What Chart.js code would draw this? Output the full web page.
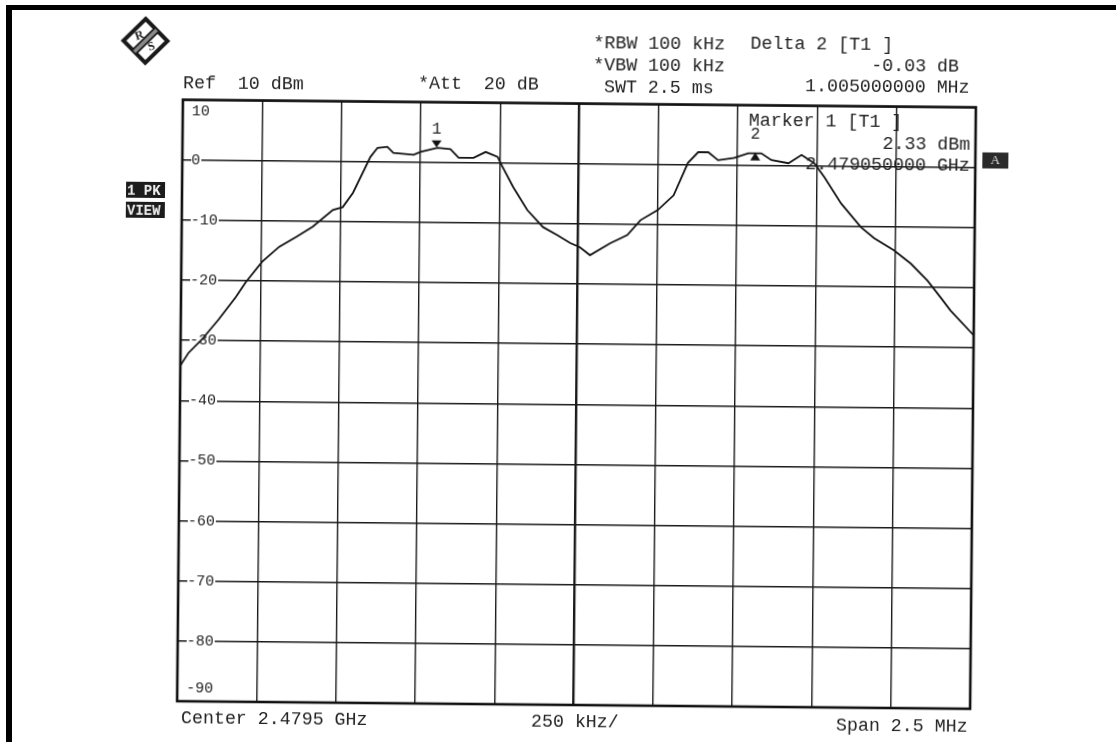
<!DOCTYPE html>
<html>
<head>
<meta charset="utf-8">
<script src="https://cdn.jsdelivr.net/npm/chart.js@4.4.1/dist/chart.umd.min.js"></script>
<style>
html, body { margin: 0; padding: 0; background: #fff; overflow: hidden; }
#wrap { position: absolute; left: 0; top: 0; width: 1116px; height: 742px;
        transform: rotate(0.55deg); transform-origin: 576px 404px; }
.bar { position: absolute; background: #000; }
</style>
</head>
<body>
<div id="wrap"><canvas id="spec"></canvas></div>
<div class="bar" style="left:6px;top:5px;width:1110px;height:5px"></div>
<div class="bar" style="left:6px;top:5px;width:6px;height:737px"></div>
<script>
// offset from centre 2.4795 GHz, in kHz (span 2.5 MHz, 250 kHz/div)
const freqKHz = [-1250, -1225, -1184, -1131, -1077, -1046, -995, -942, -888, -837,
                 -774, -743, -711, -657, -635, -604, -585, -521, -499, -446,
                 -405, -379, -332, -294, -256, -247, -206, -161, -111, -66,
                 -25, 6, 38, 101, 155, 196, 250, 300, 344, 376,
                 408, 439, 490, 534, 575, 607, 661, 702, 743, 775,
                 828, 891, 933, 996, 1050, 1103, 1145, 1176, 1250];
const levelDbm = [-34.2, -32.1, -29.9, -26.5, -22.7, -20.2, -16.8, -14.3, -12.6, -10.9,
                  -8.1, -7.6, -5.2, 0.8, 2.3, 2.5, 1.5, 1.2, 1.7, 2.4,
                  2.2, 0.8, 0.8, 1.8, 1.0, 0.0, -4.0, -7.8, -10.6, -11.9,
                  -13.2, -13.9, -15.2, -13.2, -11.8, -9.3, -7.6, -5.1, 0.3, 2.1,
                  2.1, 0.8, 1.2, 2.0, 2.0, 0.9, 0.4, 1.8, 0.4, -1.9,
                  -6.2, -10.1, -11.9, -13.9, -16.1, -18.9, -21.7, -23.8, -27.9];

// markers: 1 = reference marker, 2 = delta marker
const markerNames = ['1', '2'];
const markerFreq = [-449, 556];
const markerLevel = [2.33, 2.30];

const yTicks = [10, 0, -10, -20, -30, -40, -50, -60, -70, -80, -90];

const MONO = '"Liberation Mono", "DejaVu Sans Mono", monospace';
const INK = '#222';

function drawLogo(ctx, cx, cy, r) {
    ctx.save();
    ctx.translate(cx, cy);
    ctx.beginPath();
    ctx.moveTo(0, -r); ctx.lineTo(r, 0); ctx.lineTo(0, r); ctx.lineTo(-r, 0);
    ctx.closePath();
    ctx.lineWidth = 4; ctx.strokeStyle = '#1a1a1a'; ctx.stroke();
    ctx.beginPath();
    ctx.moveTo(r / 2, -r / 2); ctx.lineTo(-r / 2, r / 2);
    ctx.lineWidth = 7; ctx.strokeStyle = '#1a1a1a'; ctx.stroke();
    ctx.lineWidth = 3.5; ctx.strokeStyle = '#8a8a8a'; ctx.stroke();
    ctx.fillStyle = '#1a1a1a';
    ctx.font = 'bold 12px "Liberation Serif"';
    ctx.textAlign = 'center'; ctx.textBaseline = 'middle';
    ctx.save(); ctx.translate(-6, -5); ctx.rotate(-0.35); ctx.fillText('R', 0, 0); ctx.restore();
    ctx.save(); ctx.translate(6, 6); ctx.rotate(-0.35); ctx.fillText('S', 0, 0); ctx.restore();
    ctx.restore();
}

function tag(ctx, text, x, y, w, h, bg, fg) {
    ctx.fillStyle = bg;
    ctx.fillRect(x, y, w, h);
    ctx.fillStyle = fg;
    ctx.font = 'bold 14px ' + MONO;
    ctx.textAlign = 'left'; ctx.textBaseline = 'middle';
    ctx.fillText(text, x + 1, y + h / 2 + 1);
}

const analyzerText = {
    id: 'analyzerText',
    afterDraw(chart) {
        const { ctx, chartArea: a, scales: { x, y } } = chart;
        ctx.save();

        // screen frame
        ctx.strokeStyle = '#111';
        ctx.lineWidth = 2.6;
        ctx.strokeRect(a.left, a.top, a.right - a.left, a.bottom - a.top);

        // edge labels sit inside the frame
        ctx.font = '15px ' + MONO;
        ctx.fillStyle = INK;
        ctx.textAlign = 'left'; ctx.textBaseline = 'middle';
        ctx.fillText(String(yTicks[0]), a.left + 9, y.getPixelForValue(yTicks[0]) + 12);
        ctx.fillText(String(yTicks[yTicks.length - 1]), a.left + 9, y.getPixelForValue(yTicks[yTicks.length - 1]) - 13);

        // markers
        markerFreq.forEach((f, i) => {
            const px = x.getPixelForValue(f);
            const py = y.getPixelForValue(markerLevel[i]);
            ctx.fillStyle = '#111';
            ctx.beginPath();
            if (i === 0) {
                ctx.moveTo(px - 5, py - 8); ctx.lineTo(px + 5, py - 8); ctx.lineTo(px, py - 1);
            } else {
                ctx.moveTo(px - 5, py + 9); ctx.lineTo(px + 5, py + 9); ctx.lineTo(px, py + 1);
            }
            ctx.closePath(); ctx.fill();
            ctx.fillStyle = INK;
            ctx.font = '16px ' + MONO;
            ctx.textAlign = 'center'; ctx.textBaseline = 'alphabetic';
            ctx.fillText(markerNames[i], px, py - (i === 0 ? 15 : 13));
        });

        // instrument settings
        ctx.font = '18.3px ' + MONO;
        ctx.fillStyle = INK;
        ctx.textAlign = 'left'; ctx.textBaseline = 'alphabetic';
        ctx.fillText('Ref  10 dBm', 180, 91.5);
        ctx.fillText('*Att  20 dB', 415, 90);
        ctx.fillText('*RBW 100 kHz', 590, 47.5);
        ctx.fillText('*VBW 100 kHz', 590, 69.5);
        ctx.fillText(' SWT 2.5 ms', 590, 91.5);
        ctx.fillText('Delta 2 [T1 ]', 747, 46.5);
        ctx.fillText('-0.03 dB', 868, 67.5);
        ctx.fillText('1.005000000 MHz', 802, 89);
        ctx.fillText('Marker 1 [T1 ]', 746, 123.5);
        ctx.fillText('2.33 dBm', 880, 145.5);
        ctx.fillText('2.479050000 GHz', 803, 167);
        ctx.fillText('Center 2.4795 GHz', 184, 727);
        ctx.fillText('250 kHz/', 534, 727);
        ctx.fillText('Span 2.5 MHz', 839, 728);

        drawLogo(ctx, 142, 45, 22);
        tag(ctx, '1 PK', 124, 186, 39, 16, '#1c1c1c', '#eee');
        tag(ctx, 'VIEW', 124, 206, 39, 16, '#1c1c1c', '#eee');
        ctx.fillStyle = '#2a2a2a';
        ctx.fillRect(980, 148.5, 26, 16);
        ctx.fillStyle = '#ddd';
        ctx.font = '13px "Liberation Serif"';
        ctx.textAlign = 'center'; ctx.textBaseline = 'middle';
        ctx.fillText('A', 993, 157);

        ctx.restore();
    }
};

new Chart(document.getElementById('spec'), {
    type: 'line',
    data: {
        datasets: [{
            label: 'Trace 1',
            data: freqKHz.map((f, i) => ({ x: f, y: levelDbm[i] })),
            borderColor: '#151515',
            borderWidth: 1.8,
            pointRadius: 0,
            tension: 0,
            fill: false
        }]
    },
    options: {
        responsive: true,
        maintainAspectRatio: false,
        animation: false,
        layout: { padding: { left: 180, right: 143, top: 103.5, bottom: 37 } },
        plugins: {
            legend: { display: false },
            tooltip: { enabled: false }
        },
        scales: {
            x: {
                type: 'linear',
                min: -1250,
                max: 1250,
                ticks: { display: false, stepSize: 250 },
                grid: {
                    drawTicks: false,
                    color: '#1a1a1a',
                    lineWidth: c => (c.tick && c.tick.value === 0 ? 2.4 : 1.4)
                },
                border: { display: false },
                afterFit: s => { s.height = 0; }
            },
            y: {
                min: -90,
                max: 10,
                afterBuildTicks: s => { s.ticks = yTicks.map(v => ({ value: v })); },
                ticks: {
                    mirror: true,
                    padding: 9,
                    color: INK,
                    font: { family: MONO, size: 15 },
                    callback: v => (v === 10 || v === -90 ? '' : String(v)),
                    showLabelBackdrop: true,
                    backdropColor: '#fff',
                    backdropPadding: { top: 1, bottom: 1, left: 0, right: 1 }
                },
                grid: { drawTicks: false, color: '#1a1a1a', lineWidth: 1.4 },
                border: { display: false },
                afterFit: s => { s.width = 0; }
            }
        }
    },
    plugins: [analyzerText]
});
</script>
</body>
</html>
